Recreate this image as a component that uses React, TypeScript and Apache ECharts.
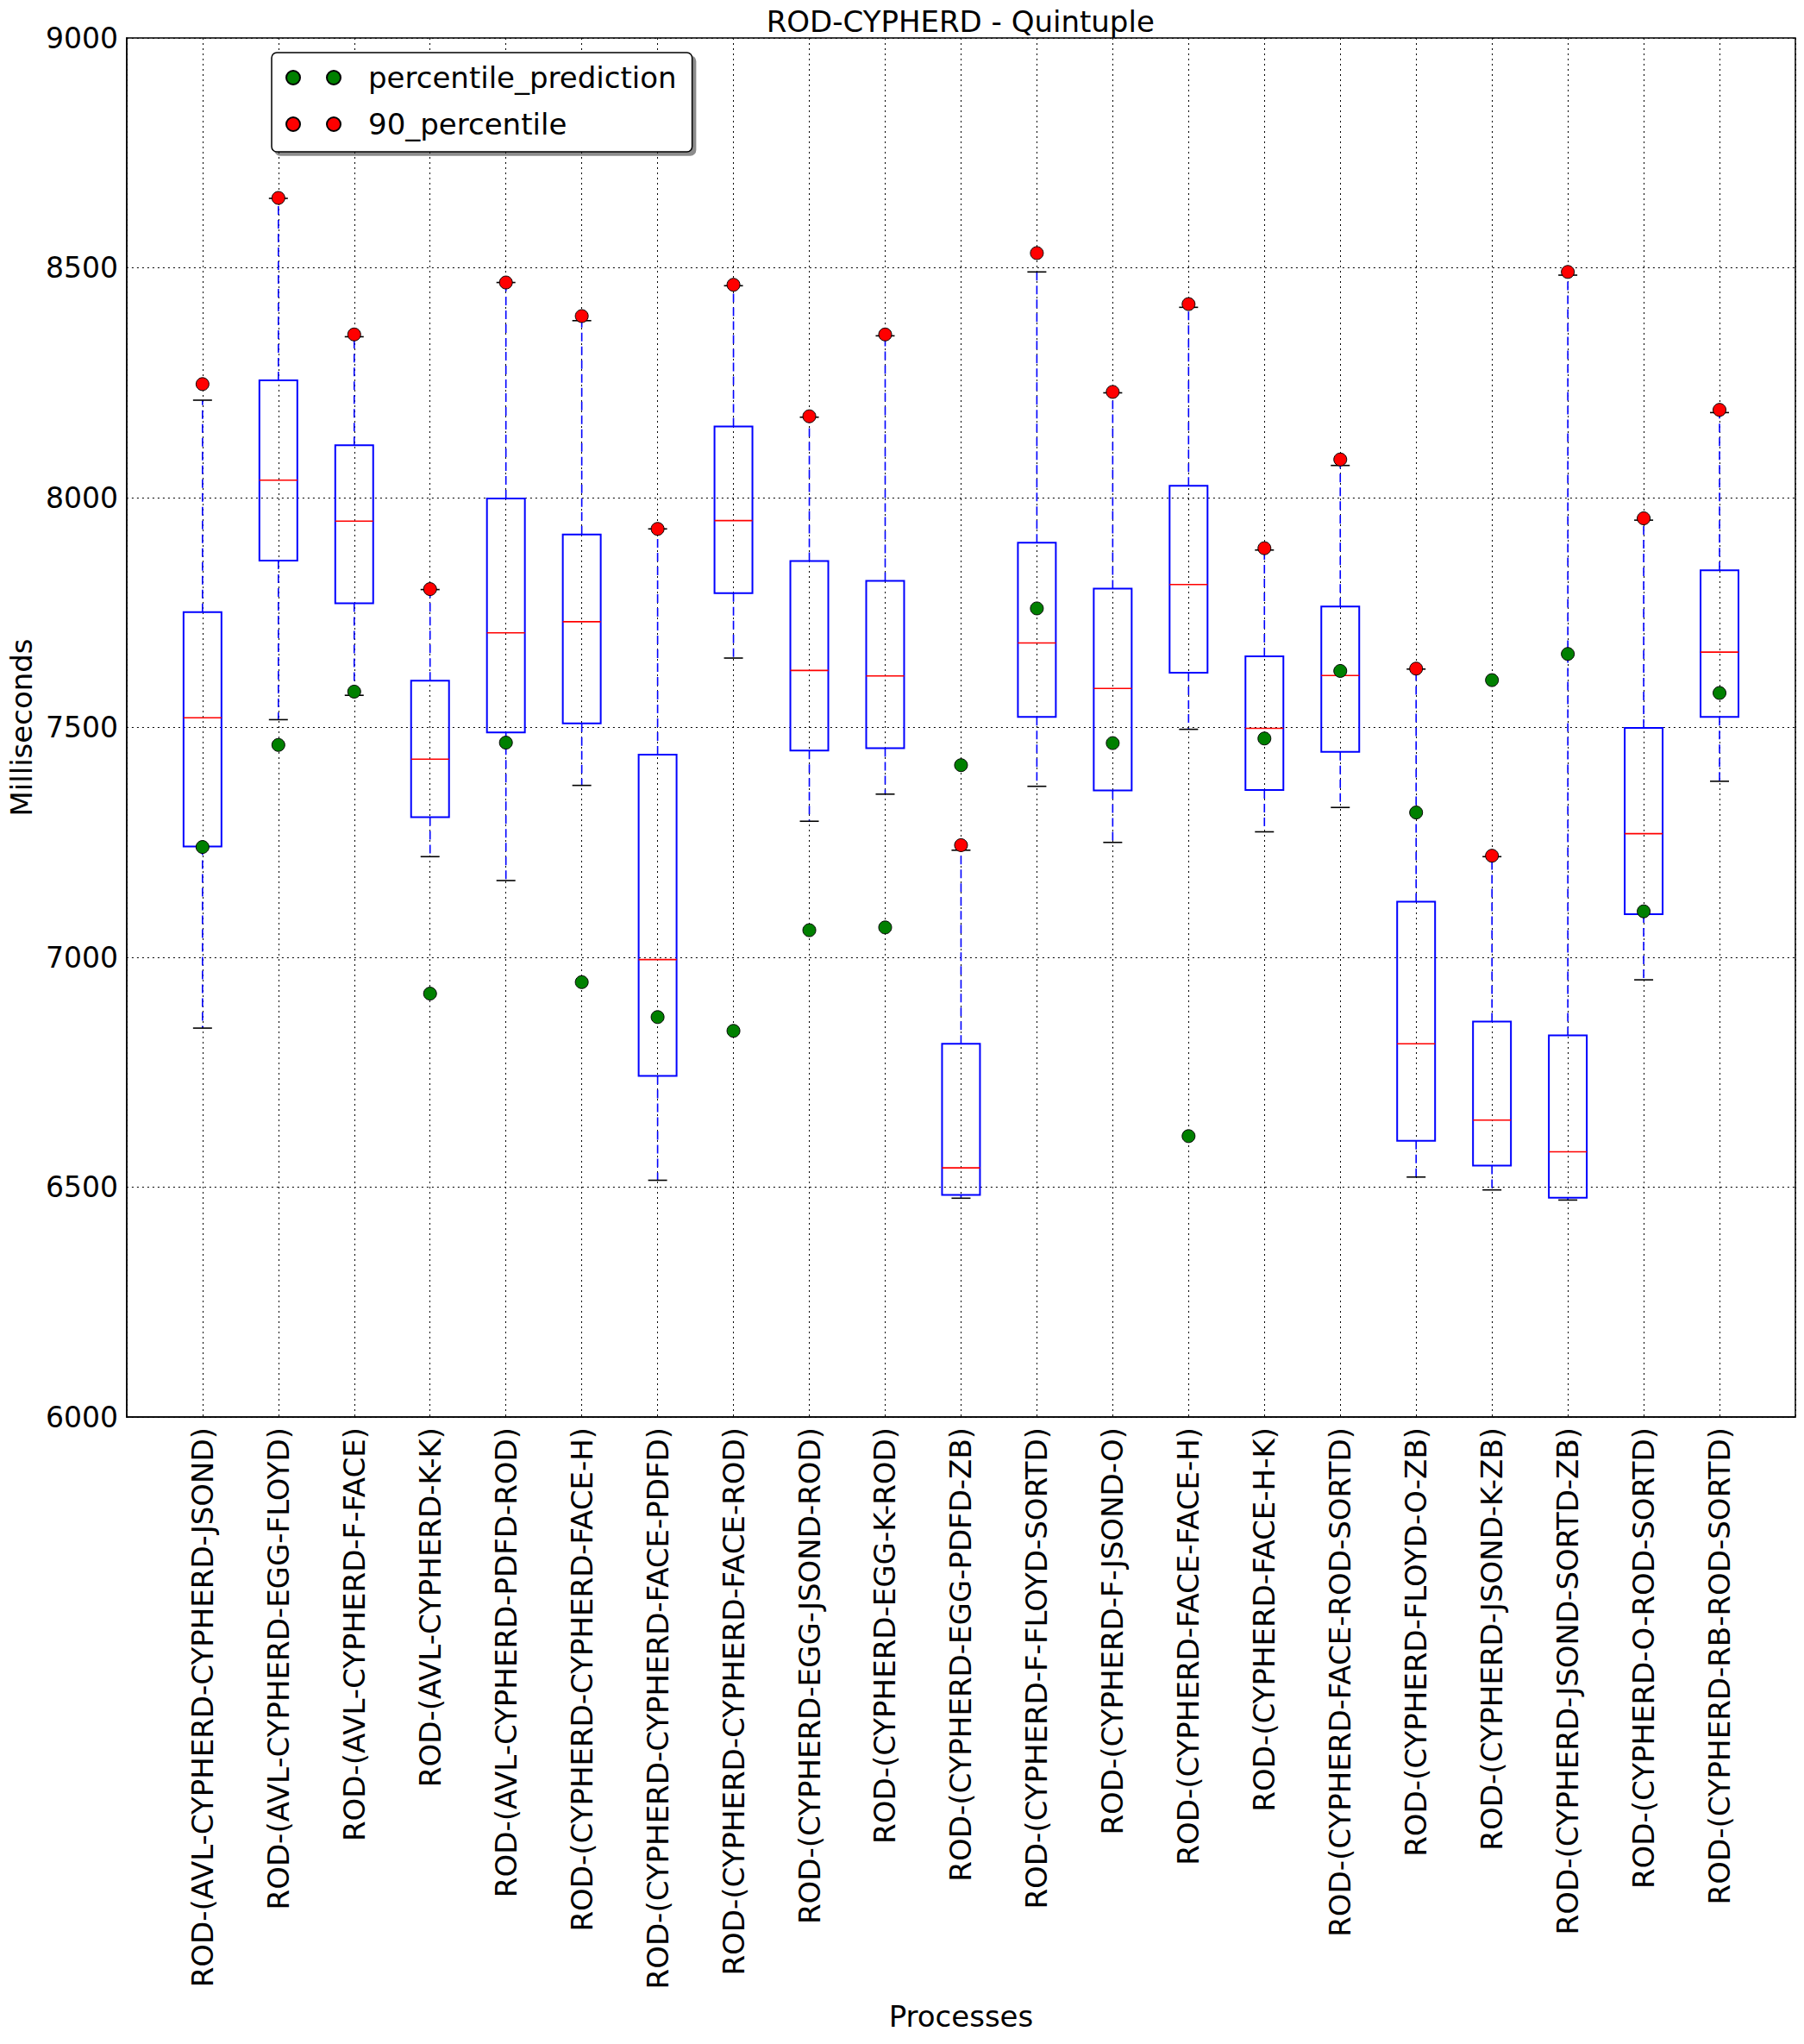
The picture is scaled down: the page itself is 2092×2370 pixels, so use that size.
import React, { useEffect, useRef } from "react";
import * as echarts from "echarts";

const categories = [
  "ROD-(AVL-CYPHERD-CYPHERD-JSOND)",
  "ROD-(AVL-CYPHERD-EGG-FLOYD)",
  "ROD-(AVL-CYPHERD-F-FACE)",
  "ROD-(AVL-CYPHERD-K-K)",
  "ROD-(AVL-CYPHERD-PDFD-ROD)",
  "ROD-(CYPHERD-CYPHERD-FACE-H)",
  "ROD-(CYPHERD-CYPHERD-FACE-PDFD)",
  "ROD-(CYPHERD-CYPHERD-FACE-ROD)",
  "ROD-(CYPHERD-EGG-JSOND-ROD)",
  "ROD-(CYPHERD-EGG-K-ROD)",
  "ROD-(CYPHERD-EGG-PDFD-ZB)",
  "ROD-(CYPHERD-F-FLOYD-SORTD)",
  "ROD-(CYPHERD-F-JSOND-O)",
  "ROD-(CYPHERD-FACE-FACE-H)",
  "ROD-(CYPHERD-FACE-H-K)",
  "ROD-(CYPHERD-FACE-ROD-SORTD)",
  "ROD-(CYPHERD-FLOYD-O-ZB)",
  "ROD-(CYPHERD-JSOND-K-ZB)",
  "ROD-(CYPHERD-JSOND-SORTD-ZB)",
  "ROD-(CYPHERD-O-ROD-SORTD)",
  "ROD-(CYPHERD-RB-ROD-SORTD)",
];

const whiskerLow = [6846, 7517, 7570, 7219, 7167, 7374, 6515, 7651, 7296, 7355, 6476, 7372, 7250, 7496, 7273, 7326, 6522, 6494, 6472, 6951, 7383];
const q1Values = [7241, 7863, 7770, 7305, 7489, 7509, 6742, 7792, 7450, 7455, 6483, 7523, 7363, 7619, 7364, 7447, 6601, 6547, 6477, 7094, 7523];
const medianValues = [7521, 8038, 7949, 7431, 7706, 7730, 6995, 7950, 7624, 7612, 6542, 7684, 7585, 7811, 7498, 7613, 6812, 6646, 6577, 7269, 7664];
const q3Values = [7751, 8255, 8114, 7602, 7998, 7920, 7441, 8155, 7862, 7819, 6812, 7902, 7802, 8026, 7655, 7763, 7121, 6860, 6830, 7499, 7842];
const whiskerHigh = [8212, 8651, 8350, 7800, 8468, 8385, 7932, 8461, 8175, 8352, 7233, 8491, 8228, 8414, 7886, 8070, 7627, 7219, 8484, 7951, 8185];

const percentilePrediction = [7240, 7462, 7578, 6921, 7467, 6946, 6870, 6840, 7059, 7065, 7418, 7759, 7466, 6611, 7476, 7623, 7315, 7603, 7660, 7100, 7575];
const percentile90 = [8247, 8652, 8355, 7801, 8468, 8395, 7932, 8463, 8177, 8355, 7244, 8532, 8230, 8421, 7890, 8083, 7628, 7221, 8491, 7955, 8191];

const yTicks = { min: 6000, max: 9000, interval: 500 };

const FONT = "DejaVu Sans";

export default function App() {
  const ref = useRef<HTMLDivElement>(null);

  useEffect(() => {
    document.body.style.margin = "0";
    const chart = echarts.init(ref.current!, undefined, { renderer: "svg" });

    const axisCats = ["", ...categories, ""];
    const boxData = categories.map((_, i) => [
      i + 1,
      whiskerLow[i],
      q1Values[i],
      medianValues[i],
      q3Values[i],
      whiskerHigh[i],
    ]);
    const greenData = percentilePrediction.map((v, i) => [i + 1, v]);
    const redData = percentile90.map((v, i) => [i + 1, v]);

    const gridLeft = 145.5;
    const gridRight = 10;
    const gridTop = 44;
    const gridBottom = 727;
    const plotCenterX = (gridLeft + (2092 - gridRight)) / 2;

    const twoDots =
      "path://M0,8 a8,8 0 1,0 16,0 a8,8 0 1,0 -16,0 Z M47,8 a8,8 0 1,0 16,0 a8,8 0 1,0 -16,0 Z";

    chart.setOption({
      animation: false,
      backgroundColor: "#ffffff",
      textStyle: { fontFamily: FONT },
      grid: {
        left: gridLeft,
        right: gridRight,
        top: gridTop,
        bottom: gridBottom,
        show: true,
        borderColor: "#000",
        borderWidth: 1.5,
        backgroundColor: "#fff",
      },
      graphic: [
        {
          type: "text",
          x: plotCenterX,
          y: 25,
          style: {
            text: "ROD-CYPHERD - Quintuple",
            fontSize: 34,
            fontFamily: FONT,
            fill: "#000",
            align: "center",
            verticalAlign: "middle",
          },
        },
      ],
      legend: {
        data: ["percentile_prediction", "90_percentile"],
        orient: "vertical",
        left: 315,
        top: 61,
        padding: [9, 18, 12, 16],
        itemGap: 14,
        itemWidth: 63,
        itemHeight: 16,
        icon: twoDots,
        textStyle: {
          fontSize: 34,
          fontFamily: FONT,
          color: "#000",
          padding: [0, 0, 0, 27],
          lineHeight: 40,
        },
        backgroundColor: "#fff",
        borderColor: "#000",
        borderWidth: 1.5,
        borderRadius: 6,
        shadowColor: "rgba(0,0,0,0.45)",
        shadowOffsetX: 4,
        shadowOffsetY: 4,
        shadowBlur: 0,
      },
      xAxis: {
        type: "category",
        data: axisCats,
        boundaryGap: false,
        name: "Processes",
        nameLocation: "middle",
        nameGap: 678,
        nameTextStyle: { fontSize: 34, fontFamily: FONT, color: "#000" },
        axisLine: { show: true, lineStyle: { color: "#000", width: 1.5 } },
        axisTick: { show: false },
        axisLabel: {
          rotate: 90,
          interval: 0,
          fontSize: 34,
          fontFamily: FONT,
          color: "#000",
          margin: 12,
        },
        splitLine: {
          show: true,
          interval: 0,
          lineStyle: { color: "#000", width: 1, type: [2, 4] },
        },
      },
      yAxis: {
        type: "value",
        min: yTicks.min,
        max: yTicks.max,
        interval: yTicks.interval,
        name: "Milliseconds",
        nameLocation: "middle",
        nameGap: 102,
        nameTextStyle: { fontSize: 34, fontFamily: FONT, color: "#000" },
        axisLine: { show: true, lineStyle: { color: "#000", width: 1.5 } },
        axisTick: { show: false },
        axisLabel: {
          fontSize: 33,
          fontFamily: FONT,
          color: "#000",
          margin: 10,
          formatter: (v: number) => String(v),
        },
        splitLine: {
          show: true,
          lineStyle: { color: "#000", width: 1, type: [2, 4] },
        },
      },
      series: [
        {
          name: "boxes",
          type: "custom",
          z: 2,
          data: boxData,
          encode: { x: 0, y: [1, 2, 3, 4, 5] },
          renderItem: (params: any, api: any) => {
            const x = api.value(0);
            const lo = api.coord([x, api.value(1)]);
            const q1 = api.coord([x, api.value(2)]);
            const med = api.coord([x, api.value(3)]);
            const q3 = api.coord([x, api.value(4)]);
            const hi = api.coord([x, api.value(5)]);
            const band = api.size([1, 0])[0];
            const cx = lo[0];
            const hw = band * 0.25;
            const cw = band * 0.125;
            const blue = "#0000ff";
            return {
              type: "group",
              children: [
                {
                  type: "line",
                  shape: { x1: cx, y1: q3[1], x2: cx, y2: hi[1] },
                  style: { stroke: blue, lineWidth: 1.6, lineDash: [10, 6] },
                },
                {
                  type: "line",
                  shape: { x1: cx, y1: q1[1], x2: cx, y2: lo[1] },
                  style: { stroke: blue, lineWidth: 1.6, lineDash: [10, 6] },
                },
                {
                  type: "line",
                  shape: { x1: cx - cw, y1: hi[1], x2: cx + cw, y2: hi[1] },
                  style: { stroke: "#000", lineWidth: 1.6 },
                },
                {
                  type: "line",
                  shape: { x1: cx - cw, y1: lo[1], x2: cx + cw, y2: lo[1] },
                  style: { stroke: "#000", lineWidth: 1.6 },
                },
                {
                  type: "rect",
                  shape: { x: cx - hw, y: q3[1], width: 2 * hw, height: q1[1] - q3[1] },
                  style: { fill: "none", stroke: blue, lineWidth: 2 },
                },
                {
                  type: "line",
                  shape: { x1: cx - hw, y1: med[1], x2: cx + hw, y2: med[1] },
                  style: { stroke: "#ff0000", lineWidth: 1.6 },
                },
              ],
            };
          },
        },
        {
          name: "percentile_prediction",
          type: "scatter",
          z: 3,
          data: greenData,
          symbol: "circle",
          symbolSize: 15,
          itemStyle: { color: "#008000", borderColor: "#000", borderWidth: 1, opacity: 1 },
        },
        {
          name: "90_percentile",
          type: "scatter",
          z: 4,
          data: redData,
          symbol: "circle",
          symbolSize: 15,
          itemStyle: { color: "#ff0000", borderColor: "#000", borderWidth: 1, opacity: 1 },
        },
      ],
    });

    return () => chart.dispose();
  }, []);

  return <div ref={ref} style={{ width: 2092, height: 2370 }} />;
}
